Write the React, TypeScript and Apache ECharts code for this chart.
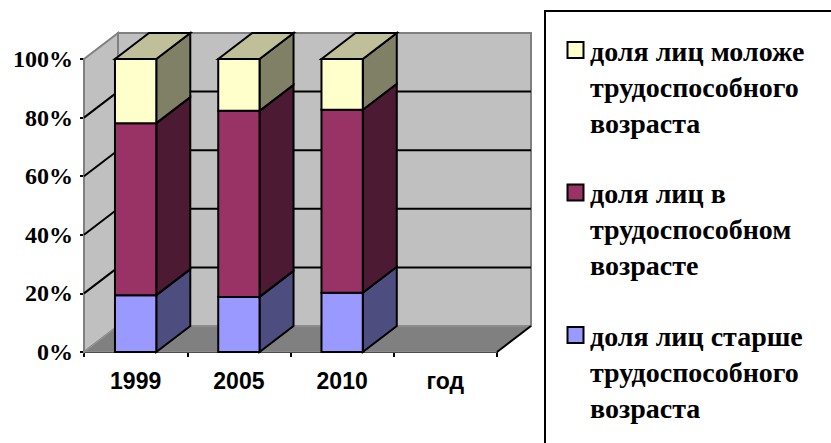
import React, { useEffect, useRef } from 'react';
import * as echarts from 'echarts';

// ---- data ----
const categories = ['1999', '2005', '2010', 'год'];
const olderShare = [19.4, 18.8, 20.2];
const workingShare = [58.7, 63.5, 62.5];
const youngShare = [21.9, 17.7, 17.3];
const yTickValues = [0, 20, 40, 60, 80, 100];

const seriesNames = [
  'доля лиц старше трудоспособного возраста',
  'доля лиц в трудоспособном возрасте',
  'доля лиц моложе трудоспособного возраста',
];
const legendLines = [
  ['доля лиц моложе', 'трудоспособного', 'возраста'],
  ['доля лиц в', 'трудоспособном', 'возрасте'],
  ['доля лиц старше', 'трудоспособного', 'возраста'],
];
const legendOrder = [2, 1, 0];
const seriesValues = [olderShare, workingShare, youngShare];

// ---- styles ----
const frontColors = ['#9999FF', '#993366', '#FFFFCC'];
const sideColors = ['#4D4D80', '#4D1A33', '#808066'];
const topColors = ['#7373BF', '#73264D', '#BFBF99'];
const SERIF = "'Liberation Serif', 'Times New Roman', serif";
const SANS = "'Liberation Sans', Arial, sans-serif";
const DX = 34;
const DY = -26;
const BAR_RATIO = 0.4;

export default function App() {
  const ref = useRef<HTMLDivElement>(null);
  useEffect(() => {
    if (!ref.current) return;
    const chart = echarts.init(ref.current, undefined, { renderer: 'svg' });

    const wallSeries: any = {
      type: 'custom',
      name: 'walls',
      silent: true,
      data: [[0]],
      renderItem: (_p: any, api: any) => {
        const band = api.size([1, 0])[0];
        const p0 = api.coord([0, 0]);
        const p1 = api.coord([categories.length - 1, 100]);
        const L = p0[0] - band / 2;
        const R = p1[0] + band / 2;
        const B = p0[1];
        const T = p1[1];
        const children: any[] = [
          {
            type: 'rect',
            shape: { x: L + DX, y: T + DY, width: R - L, height: B - T },
            style: { fill: '#C0C0C0', stroke: '#808080', lineWidth: 2 },
          },
          {
            type: 'polygon',
            shape: { points: [[L, T], [L + DX, T + DY], [L + DX, B + DY], [L, B]] },
            style: { fill: '#C0C0C0', stroke: '#808080', lineWidth: 2 },
          },
          {
            type: 'polygon',
            shape: { points: [[L, B], [L + DX, B + DY], [R + DX, B + DY], [R, B]] },
            style: { fill: '#808080', stroke: '#999999', lineWidth: 1 },
          },
          {
            type: 'line',
            shape: { x1: R, y1: B, x2: R + DX, y2: B + DY },
            style: { stroke: '#000', lineWidth: 2 },
          },
        ];
        yTickValues.forEach((v) => {
          if (v === 0 || v === 100) return;
          const y = api.coord([0, v])[1];
          children.push({
            type: 'line',
            shape: { x1: L, y1: y, x2: L + DX, y2: y + DY },
            style: { stroke: '#000', lineWidth: 2 },
          });
          children.push({
            type: 'line',
            shape: { x1: L + DX, y1: y + DY, x2: R + DX, y2: y + DY },
            style: { stroke: '#000', lineWidth: 2 },
          });
        });
        return { type: 'group', children };
      },
    };

    const cum = categories.map(() => 0);
    const barSeries = seriesValues.map((vals, s) => {
      const data = vals.map((v, i) => {
        const lo = cum[i];
        cum[i] += v;
        return [i, lo, lo + v, s === seriesValues.length - 1 ? 1 : 0];
      });
      return {
        type: 'custom',
        name: seriesNames[s],
        data,
        renderItem: (_p: any, api: any) => {
          const ci = api.value(0);
          const lo = api.value(1);
          const hi = api.value(2);
          const isTop = api.value(3);
          const bw = api.size([1, 0])[0] * BAR_RATIO;
          const pLo = api.coord([ci, lo]);
          const pHi = api.coord([ci, hi]);
          const x0 = pLo[0] - bw / 2;
          const x1 = pLo[0] + bw / 2;
          const yB = pLo[1];
          const yT = pHi[1];
          const children: any[] = [
            {
              type: 'polygon',
              shape: { points: [[x1, yT], [x1 + DX, yT + DY], [x1 + DX, yB + DY], [x1, yB]] },
              style: { fill: sideColors[s], stroke: '#000', lineWidth: 2 },
            },
            {
              type: 'rect',
              shape: { x: x0, y: yT, width: bw, height: yB - yT },
              style: { fill: frontColors[s], stroke: '#000', lineWidth: 2 },
            },
          ];
          if (isTop) {
            children.push({
              type: 'polygon',
              shape: { points: [[x0, yT], [x0 + DX, yT + DY], [x1 + DX, yT + DY], [x1, yT]] },
              style: { fill: topColors[s], stroke: '#000', lineWidth: 2 },
            });
          }
          return { type: 'group', children };
        },
      };
    });

    const legendGraphics: any[] = [
      {
        type: 'rect',
        shape: { x: 545, y: 11, width: 320, height: 460 },
        style: { fill: '#fff', stroke: '#000', lineWidth: 2 },
      },
    ];
    legendOrder.forEach((s, k) => {
      const top = 33 + k * 142.5;
      legendGraphics.push({
        type: 'rect',
        shape: { x: 567.5, y: top + 9, width: 16, height: 16 },
        style: { fill: frontColors[s], stroke: '#000', lineWidth: 2 },
      });
      legendGraphics.push({
        type: 'text',
        x: 590,
        y: top,
        style: {
          text: legendLines[k].join('\n'),
          fontFamily: SERIF,
          fontWeight: 'bold',
          fontSize: 28,
          lineHeight: 36,
          fill: '#000',
          verticalAlign: 'top',
          align: 'left',
        },
      });
    });

    chart.setOption({
      animation: false,
      backgroundColor: '#fff',
      grid: { left: 84, right: 334, top: 59, bottom: 91, containLabel: false },
      xAxis: {
        type: 'category',
        data: categories,
        boundaryGap: true,
        axisLine: { show: true, lineStyle: { color: '#000', width: 2 } },
        axisTick: { show: true, length: 5, lineStyle: { color: '#000', width: 2 } },
        axisLabel: {
          color: '#000',
          fontFamily: SANS,
          fontWeight: 'bold',
          fontSize: 23,
          margin: 17,
        },
        splitLine: { show: false },
      },
      yAxis: {
        type: 'value',
        min: 0,
        max: 100,
        interval: 20,
        axisLine: { show: true, lineStyle: { color: '#000', width: 2 } },
        axisTick: { show: true, length: 4, lineStyle: { color: '#000', width: 2 } },
        axisLabel: {
          color: '#000',
          fontFamily: SERIF,
          fontWeight: 'bold',
          fontSize: 24,
          margin: 11,
          formatter: '{value}%',
        },
        splitLine: { show: false },
      },
      graphic: legendGraphics,
      series: [wallSeries, ...barSeries],
    });
    return () => chart.dispose();
  }, []);
  return (
    <div
      ref={ref}
      style={{ position: 'fixed', left: 0, top: 0, width: 831, height: 443, background: '#fff' }}
    />
  );
}
